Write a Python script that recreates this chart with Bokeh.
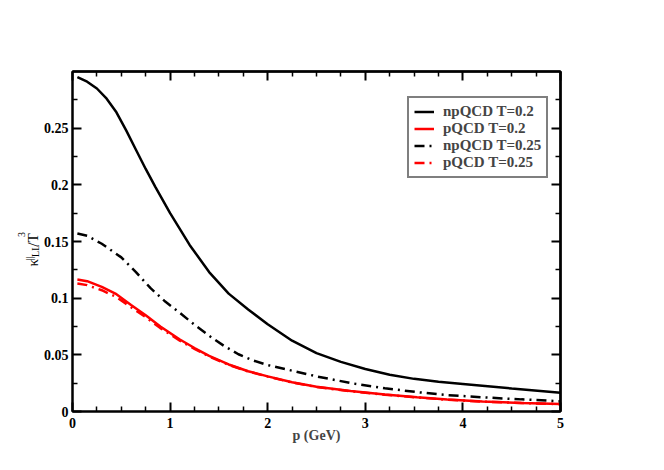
import math
from bokeh.plotting import figure
from bokeh.layouts import row
from bokeh.models import Range1d, FixedTicker, LinearAxis, Legend, LegendItem
from bokeh.core.properties import value
from bokeh.embed import file_html
from bokeh.resources import INLINE

# ---- data ----
p_np02 = [0.05, 0.15, 0.25, 0.35, 0.45, 0.55, 0.65, 0.75, 0.85, 1.0, 1.2, 1.4, 1.6, 1.8, 2.0,
          2.25, 2.5, 2.75, 3.0, 3.25, 3.5, 3.75, 4.0, 4.5, 5.0]
k_np02 = [0.295, 0.291, 0.285, 0.276, 0.264, 0.248, 0.231, 0.214, 0.198, 0.175, 0.147, 0.123,
          0.104, 0.090, 0.077, 0.0625, 0.0515, 0.0438, 0.0375, 0.0325, 0.0288, 0.0262, 0.0243,
          0.0203, 0.0166]

p_np025 = [0.05, 0.15, 0.3, 0.5, 0.65, 0.8, 0.95, 1.1, 1.25, 1.4, 1.55, 1.7, 1.85, 2.0, 2.25,
           2.5, 2.85, 3.2, 3.53, 3.84, 4.2, 4.6, 5.0]
k_np025 = [0.157, 0.155, 0.148, 0.136, 0.123, 0.1088, 0.097, 0.087, 0.0765, 0.0668, 0.058,
           0.0505, 0.045, 0.041, 0.036, 0.031, 0.0251, 0.0205, 0.0171, 0.0145, 0.0125, 0.0107,
           0.009]

p_p = [0.05, 0.15, 0.3, 0.45, 0.6, 0.75, 0.9, 1.1, 1.25, 1.4, 1.6, 1.8, 2.0, 2.25, 2.5, 2.85,
       3.2, 3.53, 3.84, 4.2, 4.6, 5.0]
k_p02 = [0.1165, 0.115, 0.110, 0.1035, 0.094, 0.085, 0.075, 0.0635, 0.056, 0.049, 0.0415,
         0.0355, 0.031, 0.0258, 0.0218, 0.018, 0.015, 0.0125, 0.0105, 0.0089, 0.0076, 0.0066]
k_p025 = [0.113, 0.1115, 0.107, 0.101, 0.092, 0.0832, 0.0736, 0.0625, 0.0553, 0.0485, 0.0412,
          0.0353, 0.0308, 0.0256, 0.0216, 0.0178, 0.0148, 0.0124, 0.0104, 0.0088, 0.0075, 0.0065]

x_ticks = [0, 1, 2, 3, 4, 5]
x_minor = [i * 0.25 for i in range(21) if i % 4 != 0]
y_ticks = [0, 0.05, 0.1, 0.15, 0.2, 0.25]
y_minor = [0.025, 0.075, 0.125, 0.175, 0.225, 0.275]
y_tick_labels = {0: "0", 0.05: "0.05", 0.1: "0.1", 0.15: "0.15", 0.2: "0.2", 0.25: "0.25"}

labels = ["npQCD T=0.2", "pQCD T=0.2", "npQCD T=0.25", "pQCD T=0.25"]

# y-axis title pieces: kappa^{||}_{LL} / T^3
ylab_text = ["κ", "||", "LL", "/T", "3"]

FONT = "Liberation Serif"
W_LEFT = 40
H = 462

p = figure(width=656 - W_LEFT, height=H, output_backend="svg", toolbar_location=None,
           x_range=Range1d(0, 5), y_range=Range1d(0, 0.3),
           min_border_left=72 - W_LEFT, min_border_right=96, min_border_top=71,
           min_border_bottom=51)
p.xgrid.visible = False
p.ygrid.visible = False
p.outline_line_color = "black"
p.outline_line_width = 2
p.background_fill_color = "white"
p.border_fill_color = "white"

r1 = p.line(p_np02, k_np02, line_color="black", line_width=2.5)
r4 = p.line(p_p, k_p025, line_color="#ff0000", line_width=2.5, line_dash="10 5 2 5")
r2 = p.line(p_p, k_p02, line_color="#ff0000", line_width=2.5)
r3 = p.line(p_np025, k_np025, line_color="black", line_width=2.5, line_dash="10 5 2 5")


def style_axis(ax, ticks, minor):
    ax.ticker = FixedTicker(ticks=ticks, minor_ticks=minor)
    ax.axis_line_width = 2
    ax.axis_line_color = "black"
    ax.major_tick_in = 9
    ax.major_tick_out = 0
    ax.minor_tick_in = 5
    ax.minor_tick_out = 0
    ax.major_tick_line_width = 2
    ax.minor_tick_line_width = 1.5
    ax.major_label_text_font = FONT
    ax.major_label_text_font_style = "bold"
    ax.major_label_text_font_size = "14px"
    ax.major_label_text_color = "black"
    ax.major_label_standoff = 4


def tick_only_axis(positions, length, width):
    ax = LinearAxis(ticker=FixedTicker(ticks=[], minor_ticks=positions))
    ax.axis_line_width = 2
    ax.axis_line_color = "black"
    ax.major_tick_in = 0
    ax.major_tick_out = 0
    ax.minor_tick_in = length
    ax.minor_tick_out = 0
    ax.minor_tick_line_width = width
    ax.major_label_standoff = 0
    return ax


style_axis(p.xaxis[0], x_ticks, x_minor)
style_axis(p.yaxis[0], y_ticks, y_minor)
p.yaxis[0].major_label_overrides = y_tick_labels
p.xaxis[0].axis_label = "p (GeV)"
p.xaxis[0].axis_label_text_font = FONT
p.xaxis[0].axis_label_text_font_style = "bold"
p.xaxis[0].axis_label_text_font_size = "14px"
p.xaxis[0].major_label_standoff = 6
p.xaxis[0].axis_label_standoff = -3

p.add_layout(tick_only_axis(x_ticks, 9, 2), "above")
p.add_layout(tick_only_axis(x_minor, 5, 1.5), "above")
p.add_layout(tick_only_axis(y_ticks, 9, 2), "right")
p.add_layout(tick_only_axis(y_minor, 5, 1.5), "right")

legend = Legend(items=[LegendItem(label=labels[0], renderers=[r1]),
                       LegendItem(label=labels[1], renderers=[r2]),
                       LegendItem(label=labels[2], renderers=[r3]),
                       LegendItem(label=labels[3], renderers=[r4])],
                location=(335, 233))
legend.label_text_font = FONT
legend.label_text_font_style = "bold"
legend.label_text_font_size = "15px"
legend.border_line_color = "black"
legend.border_line_width = 2
legend.padding = 5
legend.spacing = 0
legend.label_height = 17
legend.glyph_height = 17
legend.glyph_width = 20
legend.label_standoff = 9
legend.margin = 0
legend.background_fill_alpha = 1
p.add_layout(legend)

# narrow side panel carrying the rotated y-axis title (pixel coordinates, y from bottom)
side = figure(width=W_LEFT, height=H, output_backend="svg", toolbar_location=None,
              x_range=Range1d(0, W_LEFT), y_range=Range1d(0, H),
              min_border=0, x_axis_location=None, y_axis_location=None)
side.xgrid.visible = False
side.ygrid.visible = False
side.outline_line_color = None
side.background_fill_color = "white"
side.border_fill_color = "white"

big = [ylab_text[0], ylab_text[3]]
small = [ylab_text[1], ylab_text[2], ylab_text[4]]
side.text(x=[32, 32], y=[H - 265, H - 238], text=big, angle=math.pi / 2,
          text_font=value(FONT), text_font_size="15px", text_align="left",
          text_baseline="alphabetic", text_color="black")
side.text(x=[29, 35, 21], y=[H - 257, H - 252, H - 225], text=small, angle=math.pi / 2,
          text_font=value(FONT), text_font_size="10px", text_align="left",
          text_baseline="alphabetic", text_color="black")

layout = row(side, p, spacing=0)
open("out.html", "w").write(file_html(layout, INLINE))
